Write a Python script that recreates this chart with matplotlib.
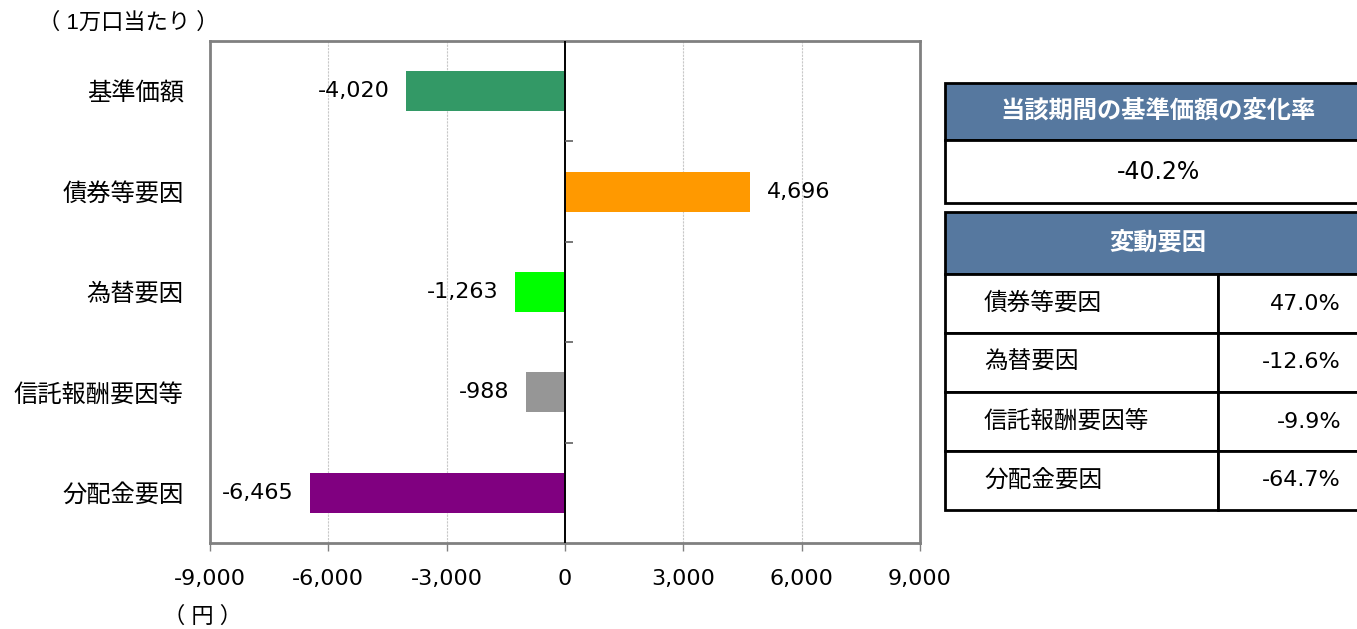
import matplotlib
matplotlib.use("Agg")
import matplotlib.pyplot as plt
from matplotlib.patches import Rectangle

plt.rcParams['font.family'] = ['Liberation Sans', 'Noto Sans CJK JP', 'DejaVu Sans']
NUM_FONT = 'DejaVu Sans'

# === data ===
categories = ['基準価額', '債券等要因', '為替要因', '信託報酬要因等', '分配金要因']
values = [-4020, 4696, -1263, -988, -6465]
bar_colors = ['#339966', '#FF9900', '#00FF00', '#969696', '#800080']
xticks = [-9000, -6000, -3000, 0, 3000, 6000, 9000]

change_title = '当該期間の基準価額の変化率'
change_value = '-40.2%'
factor_title = '変動要因'
factor_labels = ['債券等要因', '為替要因', '信託報酬要因等', '分配金要因']
factor_values = ['47.0%', '-12.6%', '-9.9%', '-64.7%']

W, H = 1357, 629
fig = plt.figure(figsize=(W / 100, H / 100), dpi=100)

# === bar chart ===
ax = fig.add_axes([210 / W, 1 - 543 / H, 710 / W, 502 / H])
ypos = list(range(len(categories)))
ax.barh(ypos, values, height=0.4, color=bar_colors, zorder=3)
ax.set_ylim(len(categories) - 0.5, -0.5)
ax.set_xlim(-9000, 9000)

for y, v in zip(ypos, values):
    ax.annotate(f'{v:,}', (v, y), xytext=(12 if v > 0 else -12, 0),
                textcoords='offset points', va='center',
                ha='left' if v > 0 else 'right', fontsize=16, family=NUM_FONT)

ax.set_xticks(xticks)
ax.set_xticklabels([f'{t:,}' for t in xticks], fontsize=16, family=NUM_FONT)
ax.set_yticks(ypos)
ax.set_yticklabels(categories, fontsize=17.5)
ax.tick_params(axis='y', length=0, pad=19)
ax.tick_params(axis='x', length=6, width=1, color='#808080', pad=13)

for x in xticks[1:-1]:
    if x != 0:
        ax.axvline(x, color='#c8c8c8', lw=0.8, ls=(0, (2, 1)), zorder=1)
ax.axvline(0, color='black', lw=1.4, zorder=4)
# small ticks on the zero line between categories
bounds = [i + 0.5 for i in range(len(categories) - 1)]
ax.hlines(bounds, 0, 200, color='#606060', lw=1.2, zorder=4)

for s in ax.spines.values():
    s.set_color('#808080')
    s.set_linewidth(2)

fig.text(38 / W, 1 - 23 / H, '（ 1万口当たり ）', fontsize=16, va='center', ha='left')
fig.text(163 / W, 1 - 617 / H, '（ 円 ）', fontsize=16, va='center', ha='left')

# === table on the right ===
tx = fig.add_axes([0, 0, 1, 1])
tx.set_xlim(0, W)
tx.set_ylim(H, 0)
tx.axis('off')

left, right, mid = 945, 1371, 1218
head_col = '#56789F'
lw = 2

# block 1
tx.add_patch(Rectangle((left, 83), right - left, 57, facecolor=head_col,
                       edgecolor='black', lw=lw))
tx.add_patch(Rectangle((left, 140), right - left, 63, facecolor='white',
                       edgecolor='black', lw=lw))
cx = (left + right) / 2
tx.text(cx, 112, change_title, color='white', fontsize=17.5, fontweight='bold',
        ha='center', va='center')
tx.text(cx, 172, change_value, fontsize=17, ha='center', va='center',
        family=NUM_FONT)

# block 2
tx.add_patch(Rectangle((left, 212), right - left, 62, facecolor=head_col,
                       edgecolor='black', lw=lw))
tx.text(cx, 244, factor_title, color='white', fontsize=17.5, fontweight='bold',
        ha='center', va='center')
row_h = 59
top = 274
for i, (lab, val) in enumerate(zip(factor_labels, factor_values)):
    y0 = top + i * row_h
    tx.add_patch(Rectangle((left, y0), mid - left, row_h, facecolor='white',
                           edgecolor='black', lw=lw))
    tx.add_patch(Rectangle((mid, y0), right - mid, row_h, facecolor='white',
                           edgecolor='black', lw=lw))
    tx.text(984, y0 + row_h / 2, lab, fontsize=17, ha='left', va='center')
    tx.text(1341, y0 + row_h / 2, val, fontsize=16, ha='right', va='center',
            family=NUM_FONT)

fig.savefig('out.png', dpi=100)
